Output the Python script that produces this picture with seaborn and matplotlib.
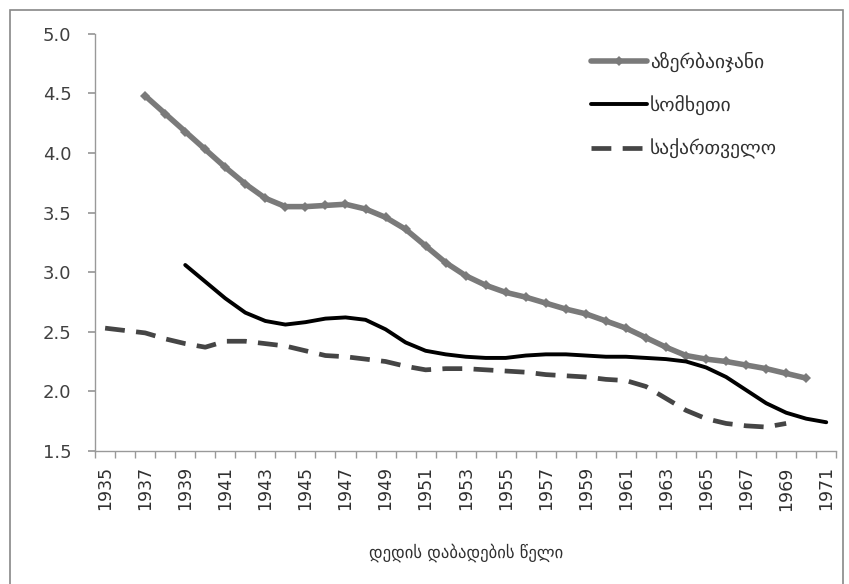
import numpy as np
import pandas as pd
import matplotlib
matplotlib.use("Agg")
import matplotlib.pyplot as plt
import seaborn as sns
from matplotlib.patches import Rectangle

# Birth year of mother
years = list(range(1935, 1972))

# Azerbaijan (1937-1970)
az_years = list(range(1937, 1971))
az_values = [4.48, 4.33, 4.18, 4.03, 3.88, 3.74, 3.62, 3.55, 3.55, 3.56,
             3.57, 3.53, 3.46, 3.36, 3.22, 3.08, 2.97, 2.89, 2.83, 2.79,
             2.74, 2.69, 2.65, 2.59, 2.53, 2.45, 2.37, 2.30, 2.27, 2.25,
             2.22, 2.19, 2.15, 2.11]

# Armenia (1939-1971)
am_years = list(range(1939, 1972))
am_values = [3.06, 2.92, 2.78, 2.66, 2.59, 2.56, 2.58, 2.61, 2.62, 2.60,
             2.52, 2.41, 2.34, 2.31, 2.29, 2.28, 2.28, 2.30, 2.31, 2.31,
             2.30, 2.29, 2.29, 2.28, 2.27, 2.25, 2.20, 2.12, 2.01, 1.90,
             1.82, 1.77, 1.74]

# Georgia (1935-1969)
ge_years = list(range(1935, 1970))
ge_values = [2.53, 2.51, 2.49, 2.44, 2.40, 2.37, 2.42, 2.42, 2.40, 2.38,
             2.34, 2.30, 2.29, 2.27, 2.25, 2.21, 2.18, 2.19, 2.19, 2.18,
             2.17, 2.16, 2.14, 2.13, 2.12, 2.10, 2.09, 2.04, 1.94, 1.84,
             1.77, 1.73, 1.71, 1.70, 1.73]

labels = ["აზერბაიჯანი", "სომხეთი", "საქართველო"]
x_label = "დედის დაბადების წელი"
y_ticks = [1.5, 2.0, 2.5, 3.0, 3.5, 4.0, 4.5, 5.0]

sns.set_theme(style="white")
plt.rcParams['font.family'] = ['DejaVu Sans']

fig = plt.figure(figsize=(8.49, 5.84), dpi=100)
ax = fig.add_axes([0.112, 0.228, 0.873, 0.714])

df_az = pd.DataFrame({"year": az_years, "value": az_values})
df_am = pd.DataFrame({"year": am_years, "value": am_values})
df_ge = pd.DataFrame({"year": ge_years, "value": ge_values})

sns.lineplot(data=df_az, x="year", y="value", ax=ax, color="#7a7a7a",
             linewidth=4.0, marker="D", markersize=5, markeredgewidth=0,
             label=labels[0])
sns.lineplot(data=df_am, x="year", y="value", ax=ax, color="black",
             linewidth=2.8, label=labels[1])
sns.lineplot(data=df_ge, x="year", y="value", ax=ax, color="#454545",
             linewidth=3.4, label=labels[2])
ax.lines[2].set_dashes([4.2, 2.4])

ax.set_xlim(1934.5, 1971.5)
ax.set_ylim(1.5, 5.0)
ax.set_yticks(y_ticks)
ax.set_yticklabels([f"{t:.1f}" for t in y_ticks], fontsize=13, color="#404040")
ax.set_xticks(years[::2])
ax.set_xticklabels([str(y) for y in years[::2]], rotation=90, fontsize=12.5,
                   color="#303030")
ax.set_xticks([y + 0.5 for y in range(1934, 1972)], minor=True)
ax.tick_params(axis="x", which="major", length=0, pad=11)
ax.tick_params(axis="x", which="minor", length=5, color="#999999", direction="out",
               bottom=True)
ax.tick_params(axis="y", which="major", length=5, color="#999999", direction="out",
               left=True, pad=12)

for side in ["top", "right"]:
    ax.spines[side].set_visible(False)
for side in ["left", "bottom"]:
    ax.spines[side].set_color("#999999")
    ax.spines[side].set_linewidth(1.0)

ax.set_xlabel(x_label, fontsize=12, color="#303030", labelpad=24)
ax.set_ylabel("")

ax.legend(loc="upper left", bbox_to_anchor=(0.645, 1.0), frameon=False,
          fontsize=14, handlelength=2.9, handletextpad=0.15, labelspacing=1.2,
          labelcolor="#303030")

fig.patches.append(Rectangle((10 / 849, -0.02), 833 / 849, 1 - 10 / 584 + 0.02,
                             transform=fig.transFigure, fill=False,
                             edgecolor="#888888", linewidth=1.2))

fig.savefig("out.png", dpi=100)
